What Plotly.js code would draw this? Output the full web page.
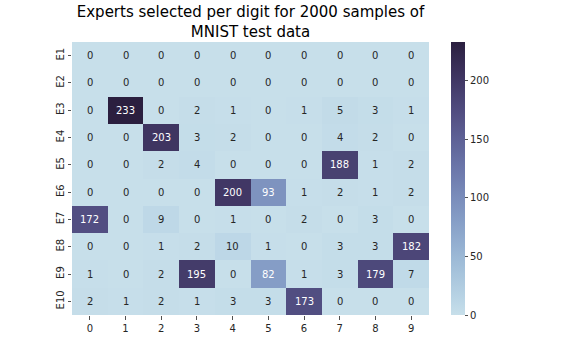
<!DOCTYPE html>
<html>
<head>
<meta charset="utf-8">
<script src="https://cdn.plot.ly/plotly-3.0.1.min.js"></script>
<style>html,body{margin:0;padding:0;background:#fff;}#chart{width:576px;height:360px;}</style>
</head>
<body>
<div id="chart"></div>
<script>
const digits = ["0","1","2","3","4","5","6","7","8","9"];
const experts = ["E1","E2","E3","E4","E5","E6","E7","E8","E9","E10"];
const E1  = [0,0,0,0,0,0,0,0,0,0];
const E2  = [0,0,0,0,0,0,0,0,0,0];
const E3  = [0,233,0,2,1,0,1,5,3,1];
const E4  = [0,0,203,3,2,0,0,4,2,0];
const E5  = [0,0,2,4,0,0,0,188,1,2];
const E6  = [0,0,0,0,200,93,1,2,1,2];
const E7  = [172,0,9,0,1,0,2,0,3,0];
const E8  = [0,0,1,2,10,1,0,3,3,182];
const E9  = [1,0,2,195,0,82,1,3,179,7];
const E10 = [2,1,2,1,3,3,173,0,0,0];
const counts = [E1,E2,E3,E4,E5,E6,E7,E8,E9,E10];
const colorbarTicks = [0,50,100,150,200];

// seaborn "ch:s=.25,rot=-.25" cubehelix colormap
function cubehelix(x){
  const gamma=1, s=0.25, r=-0.25, h=0.8;
  const xg = Math.pow(x, gamma);
  const a = h*xg*(1-xg)/2;
  const phi = 2*Math.PI*(s/3 + r*x);
  const f = (p0,p1)=>Math.min(1,Math.max(0, xg + a*(p0*Math.cos(phi)+p1*Math.sin(phi))));
  return [f(-0.14861,1.78277), f(-0.29227,-0.90649), f(1.97294,0)];
}
const light=0.85, dark=0.15;
function cmap(t){ return cubehelix(light + (dark-light)*t); }
const colorscale = [];
for(let i=0;i<=20;i++){
  const t=i/20; const c=cmap(t);
  colorscale.push([t, `rgb(${Math.round(c[0]*255)},${Math.round(c[1]*255)},${Math.round(c[2]*255)})`]);
}
let zmax = 0; counts.forEach(r=>r.forEach(v=>{if(v>zmax)zmax=v;}));
function lum(c){
  const lin=c.map(v=> v<=0.03928 ? v/12.92 : Math.pow((v+0.055)/1.055,2.4));
  return 0.2126*lin[0]+0.7152*lin[1]+0.0722*lin[2];
}
const annotations=[];
counts.forEach((row,i)=>row.forEach((v,j)=>{
  const c=cmap(v/zmax);
  annotations.push({x:digits[j], y:experts[i], text:String(v), showarrow:false,
    font:{family:"DejaVu Sans", size:10, color: lum(c)>0.408 ? "#262626" : "#ffffff"}});
}));

const trace = {
  type:"heatmap", x:digits, y:experts, z:counts,
  colorscale:colorscale, zmin:0, zmax:zmax, hoverongaps:false,
  colorbar:{x:1.0616, xanchor:"left", xref:"paper", y:0, yanchor:"bottom", len:1, lenmode:"fraction",
    thickness:14, xpad:0, ypad:0, outlinewidth:0, tickvals:colorbarTicks, ticks:"outside", ticklen:3.5, tickwidth:0.8,
    tickcolor:"#262626", tickfont:{family:"DejaVu Sans", size:10, color:"#262626"}}
};
const layout = {
  width:576, height:360,
  margin:{l:72, r:147, t:42, b:45},
  paper_bgcolor:"#fff", plot_bgcolor:"#fff",
  font:{family:"DejaVu Sans", color:"#262626"},
  title:{text:"Experts selected per digit for 2000 samples of<br>MNIST test data",
    font:{family:"DejaVu Sans", size:15, color:"#000"}, x:0.4349, xanchor:"center", xref:"container",
    y:1-17/360, yanchor:"top", yref:"container"},
  xaxis:{type:"category", showgrid:false, zeroline:false, ticks:"outside", ticklen:3.5, tickwidth:0.8, tickcolor:"#262626",
    tickfont:{family:"DejaVu Sans", size:10, color:"#262626"}, showline:false},
  yaxis:{type:"category", autorange:"reversed", showgrid:false, zeroline:false, ticks:"outside", ticklen:3.5, tickwidth:0.8,
    tickcolor:"#262626", tickangle:-90, tickfont:{family:"DejaVu Sans", size:10, color:"#262626"}, showline:false},
  annotations:annotations
};
Plotly.newPlot("chart",[trace],layout,{displayModeBar:false, staticPlot:true});
</script>
</body>
</html>
